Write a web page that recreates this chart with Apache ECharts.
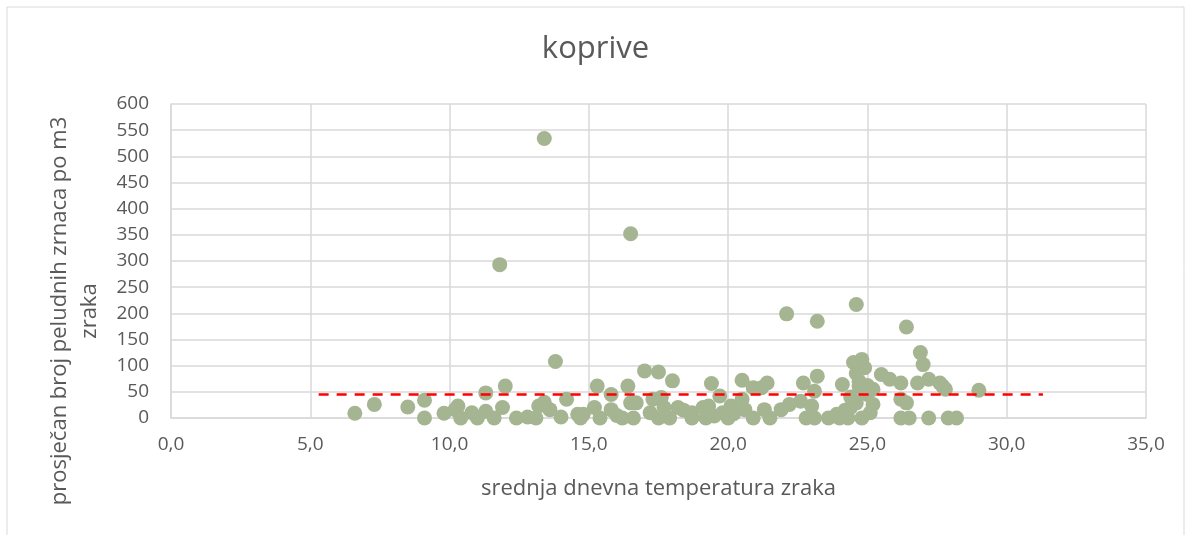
<!DOCTYPE html>
<html>
<head>
<meta charset="utf-8">
<script src="https://cdn.jsdelivr.net/npm/echarts@6/dist/echarts.min.js"></script>
<style>
  html, body { margin: 0; padding: 0; background: #fff; }
  #app { width: 1191px; height: 535px; }
</style>
</head>
<body>
<div id="app"></div>
<script>
// srednja dnevna temperatura zraka (x) / prosjecan broj peludnih zrnaca (y)
var temperature = [
  6.6, 7.3, 8.5, 9.1, 9.1, 9.8, 10.2, 10.3, 10.4, 10.8, 11.0, 11.3, 11.3, 11.6, 11.8, 11.9,
  12.0, 12.4, 12.8, 13.1, 13.2, 13.4, 13.4, 13.6, 13.8, 14.0, 14.2, 14.6, 14.7, 14.8, 15.2, 15.3,
  15.4, 15.8, 15.8, 16.0, 16.2, 16.4, 16.5, 16.5, 16.6, 16.7, 17.0, 17.2, 17.3, 17.5, 17.5, 17.6,
  17.7, 17.9, 18.0, 18.2, 18.4, 18.7, 18.7, 19.1, 19.2, 19.3, 19.4, 19.5, 19.7, 19.8, 20.0, 20.1,
  20.2, 20.5, 20.5, 20.6, 20.9, 20.9, 21.2, 21.3, 21.4, 21.5, 21.9, 22.1, 22.2, 22.6, 22.7, 22.8,
  23.0, 23.1, 23.1, 23.2, 23.2, 23.6, 23.9, 24.0, 24.1, 24.2, 24.3, 24.4, 24.4, 24.5, 24.6, 24.6,
  24.6, 24.7, 24.7, 24.8, 24.8, 24.9, 24.9, 25.0, 25.0, 25.1, 25.2, 25.2, 25.5, 25.8, 26.2, 26.2,
  26.2, 26.4, 26.4, 26.5, 26.8, 26.9, 27.0, 27.2, 27.2, 27.6, 27.7, 27.8, 27.9, 28.2, 29.0
];
var pollen = [
  9, 26, 21, 34, 0, 9, 16, 23, 0, 10, 0, 48, 13, 0, 293, 20,
  61, 0, 2, 0, 23, 534, 30, 16, 108, 2, 36, 7, 0, 7, 20, 61,
  0, 45, 16, 5, 0, 61, 352, 29, 0, 29, 90, 10, 36, 88, 0, 39,
  20, 0, 71, 20, 15, 10, 0, 20, 0, 23, 66, 4, 42, 10, 0, 23,
  8, 36, 72, 16, 0, 58, 58, 16, 67, 0, 16, 199, 26, 32, 67, 0,
  23, 51, 0, 80, 185, 0, 7, 0, 64, 15, 0, 40, 20, 106, 217, 29,
  85, 60, 70, 112, 0, 96, 50, 45, 62, 10, 26, 55, 83, 74, 67, 36,
  0, 174, 29, 0, 67, 125, 102, 74, 0, 67, 61, 55, 0, 0, 53
];
// prosjek (crvena isprekidana linija)
var meanX = [5.3, 31.3];
var meanY = [45, 45];

var xTicks = { min: 0, max: 35, step: 5 };
var yTicks = { min: 0, max: 600, step: 50 };

var points = temperature.map(function (t, i) { return [t, pollen[i]]; });
var meanLine = meanX.map(function (x, i) { return [x, meanY[i]]; });

var FONT = '"Open Sans", "Liberation Sans", sans-serif';
var TEXT = '#595959';
var GRID = '#d9d9d9';

var chart = echarts.init(document.getElementById('app'), null, { renderer: 'canvas' });
chart.setOption({
  animation: false,
  backgroundColor: '#fff',
  title: {
    text: 'koprive',
    left: 'center',
    top: 29,
    textStyle: { fontFamily: FONT, fontSize: 31, fontWeight: 'normal', color: TEXT }
  },
  graphic: [
    {
      type: 'rect',
      shape: { x: 7, y: 7, width: 1177, height: 540 },
      style: { fill: 'none', stroke: GRID, lineWidth: 1 },
      silent: true
    },
    {
      type: 'text',
      x: 75,
      y: 311,
      rotation: Math.PI / 2,
      style: {
        text: 'prosječan broj peludnih zrnaca po m3\nzraka',
        fontFamily: FONT,
        fontSize: 22,
        lineHeight: 30,
        fill: TEXT,
        align: 'center',
        verticalAlign: 'middle'
      }
    }
  ],
  grid: { left: 171, right: 45, top: 104, bottom: 117, containLabel: false },
  xAxis: {
    type: 'value',
    min: xTicks.min,
    max: xTicks.max,
    interval: xTicks.step,
    name: 'srednja dnevna temperatura zraka',
    nameLocation: 'middle',
    nameGap: 60,
    nameTextStyle: { fontFamily: FONT, fontSize: 22, color: TEXT },
    axisLine: { show: true, lineStyle: { color: GRID, width: 1.5 } },
    axisTick: { show: false },
    splitLine: { show: true, lineStyle: { color: GRID, width: 1.5 } },
    axisLabel: {
      fontFamily: FONT, fontSize: 19, color: TEXT, margin: 17,
      formatter: function (v) { return v.toFixed(1).replace('.', ','); }
    }
  },
  yAxis: {
    type: 'value',
    min: yTicks.min,
    max: yTicks.max,
    interval: yTicks.step,
    axisLine: { show: true, lineStyle: { color: GRID, width: 1.5 } },
    axisTick: { show: false },
    splitLine: { show: true, lineStyle: { color: GRID, width: 1.5 } },
    axisLabel: { fontFamily: FONT, fontSize: 19, color: TEXT, margin: 22 }
  },
  series: [
    {
      type: 'scatter',
      data: points,
      symbol: 'circle',
      symbolSize: 15,
      itemStyle: { color: '#a5b592', opacity: 1 },
      z: 2
    },
    {
      type: 'line',
      data: meanLine,
      symbol: 'none',
      lineStyle: { color: '#ff0000', width: 2.5, type: [10, 8] },
      z: 3
    }
  ]
});
addEventListener('resize', function () { chart.resize(); });
</script>
</body>
</html>
